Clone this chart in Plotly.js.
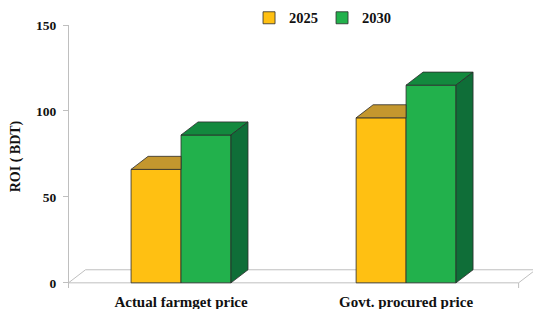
<!DOCTYPE html>
<html>
<head>
<meta charset="utf-8">
<script src="https://cdn.plot.ly/plotly-3.0.1.min.js"></script>
<style>html,body{margin:0;padding:0;background:#fff;}#chart{width:533px;height:309px;}</style>
</head>
<body>
<div id="chart"></div>
<script>
const categories = ['Actual farmget price', 'Govt. procured price'];
const years = ['2025', '2030'];
const roi2025 = [66, 96];
const roi2030 = [86, 115];
const yTicks = [0, 50, 100, 150];

// style constants (3D look)
const W = 0.222;      // bar width in category units
const DX = 0.0756;    // depth offset x (category units)
const DY = 7.6;       // depth offset y (data units)
const edge = '#2b2b2b';
const col2025 = '#FFC012', top2025 = '#C4972E';
const col2030 = '#22B14C', top2030 = '#13893E', side2030 = '#0F6E38';
const FONT = 'Liberation Serif, Times New Roman, serif';

const idx = categories.map((c, i) => i);

const traces = [];
traces.push({
  type: 'bar', name: years[0], x: idx, y: roi2025, width: W, offset: -W,
  marker: {color: col2025, line: {color: edge, width: 0.8}}, hoverinfo: 'y'
});
traces.push({
  type: 'bar', name: years[1], x: idx, y: roi2030, width: W, offset: 0,
  marker: {color: col2030, line: {color: edge, width: 0.8}}, hoverinfo: 'y'
});

function poly(xs, ys, fill) {
  traces.push({
    type: 'scatter', mode: 'lines', x: xs.concat([xs[0]]), y: ys.concat([ys[0]]),
    fill: 'toself', fillcolor: fill, line: {color: edge, width: 0.8},
    showlegend: false, hoverinfo: 'skip'
  });
}

idx.forEach(i => {
  // 2025 top (visible part, right part hidden behind 2030 bar)
  const a0 = i - W, a1 = i, v = roi2025[i];
  poly([a0, a1, a1, a0 + DX], [v, v, v + DY, v + DY], top2025);
  // 2030 top & side
  const b0 = i, b1 = i + W, u = roi2030[i];
  poly([b0, b1, b1 + DX, b0 + DX], [u, u, u + DY, u + DY], top2030);
  poly([b1, b1, b1 + DX, b1 + DX], [0, u, u + DY, DY], side2030);
});

const xL = -0.5, xR = categories.length - 0.5;
const layout = {
  width: 533, height: 309,
  margin: {l: 69, r: 0, t: 25, b: 21},
  paper_bgcolor: '#fff', plot_bgcolor: '#fff',
  barmode: 'overlay',
  showlegend: true,
  legend: {orientation: 'h', x: 0.388, y: 1.088, xanchor: 'left', yanchor: 'top',
    font: {family: FONT, size: 14.5, color: '#111', weight: 'bold'},
    bgcolor: 'rgba(0,0,0,0)', itemwidth: 30, entrywidth: 28, entrywidthmode: 'pixels',
    traceorder: 'normal'},
  xaxis: {
    type: 'linear', range: [-0.4978, 1.564], tickvals: idx, ticktext: categories,
    showline: false, showgrid: false, zeroline: false, ticks: '', ticklabelstandoff: 3,
    tickfont: {family: FONT, size: 15, color: '#111', weight: 'bold'}, fixedrange: true
  },
  yaxis: {
    range: [-3, 150], tickvals: yTicks, showline: true, linecolor: '#bfbfbf', linewidth: 1,
    ticks: 'outside', ticklen: 5, tickcolor: '#bfbfbf', showgrid: false, zeroline: false,
    ticklabelstandoff: 4,
    tickfont: {family: FONT, size: 13.5, color: '#111', weight: 'bold'},
    title: {text: 'ROI ( BDT)', font: {family: FONT, size: 14, color: '#111', weight: 'bold'}, standoff: 12},
    fixedrange: true
  },
  shapes: [
    {type: 'path', xref: 'x', yref: 'y', layer: 'below',
     path: `M${xL},0 L${xR},0 L${xR + DX},${DY} L${xL + DX},${DY} Z`,
     line: {color: '#bfbfbf', width: 1}, fillcolor: '#fff'},
    {type: 'line', xref: 'x', yref: 'y', x0: xR, x1: xR, y0: 0, y1: -3,
     line: {color: '#bfbfbf', width: 1}}
  ]
};

Plotly.newPlot('chart', traces, layout, {displayModeBar: false, staticPlot: true});
</script>
</body>
</html>
